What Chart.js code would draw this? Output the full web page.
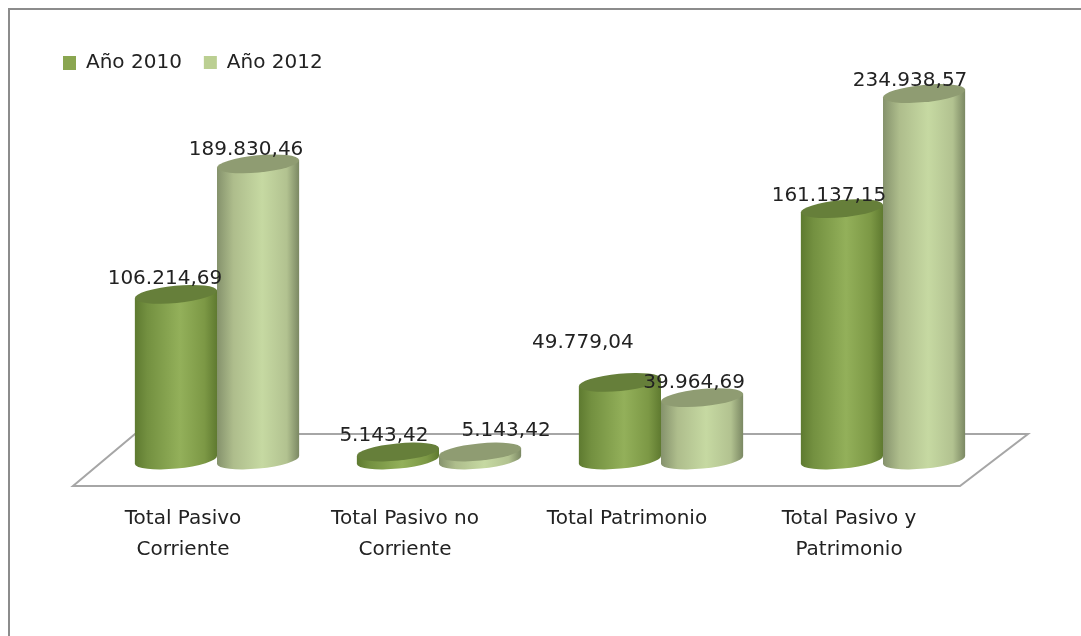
<!DOCTYPE html>
<html lang="es">
<head>
<meta charset="utf-8">
<title>Pasivo y Patrimonio</title>
<style>html,body{margin:0;padding:0;background:#fff;overflow:hidden}canvas{display:block;filter:blur(.4px)}</style>
<script src="https://cdn.jsdelivr.net/npm/chart.js@4/dist/chart.umd.js"></script>
</head>
<body>
<canvas id="c" width="1081" height="636"></canvas>
<script>
const categories = [["Total Pasivo","Corriente"],["Total Pasivo no","Corriente"],["Total Patrimonio"],["Total Pasivo y","Patrimonio"]];
const seriesNames = ["Año 2010","Año 2012"];
const values2010 = [106214.69, 5143.42, 49779.04, 161137.15];
const values2012 = [189830.46, 5143.42, 39964.69, 234938.57];

const FONT = '"DejaVu Sans", sans-serif';
const TEXT = '#222222';
const solid = ['#8aa650', '#bbcf92'];
const look = {
  '#8aa650': {top:'#667f3a', stops:[[0,'#5e7a30'],[.15,'#739040'],[.55,'#93b05a'],[.85,'#7c9845'],[1,'#5f7a30']]},
  '#bbcf92': {top:'#8f9c72', stops:[[0,'#85926c'],[.2,'#aebd8c'],[.55,'#c6d9a2'],[.85,'#b2c290'],[1,'#7b8863']]}
};
// label nudges from the top-centre of each bar: [dx, dy] by dataset then category
const labelNudge = [
  [[-11,-16],[-14,-16],[-37,-40],[-13,-13]],
  [[-12,-14],[26,-21],[-8,-15],[-14,-13]]
];
const TILT = 5.5 * Math.PI / 180, RY = 8.6;

const fmt = v => v.toFixed(2).replace('.',',').replace(/\B(?=(\d{3})+(?!\d))/g,'.');

// Bars are the library's own elements, painted as tilted cylinders.
Chart.BarElement.prototype.draw = function (ctx) {
  const {x, y, base, width} = this.getProps(['x','y','base','width']);
  const st = look[this.options.backgroundColor];
  const rx = width / 2 / Math.cos(TILT);
  const dy = width / 2 * Math.tan(TILT);
  const l = x - width / 2, r = x + width / 2;
  const g = ctx.createLinearGradient(l, 0, r, 0);
  st.stops.forEach(s => g.addColorStop(s[0], s[1]));
  ctx.save();
  ctx.beginPath();
  ctx.ellipse(x, base, rx, RY, -TILT, 0, Math.PI);
  ctx.lineTo(l, y + dy);
  ctx.lineTo(r, y - dy);
  ctx.closePath();
  ctx.fillStyle = g;
  ctx.fill();
  ctx.beginPath();
  ctx.ellipse(x, y, rx, RY, -TILT, 0, Math.PI * 2);
  ctx.fillStyle = st.top;
  ctx.fill();
  ctx.restore();
};

const scene = {
  id: 'scene',
  beforeDraw(chart) {
    const {ctx, width, height} = chart;
    ctx.save();
    ctx.fillStyle = '#fff';
    ctx.fillRect(0, 0, width, height);
    ctx.strokeStyle = '#8c8c8c';
    ctx.lineWidth = 2;
    ctx.beginPath();
    ctx.moveTo(9, height);
    ctx.lineTo(9, 9);
    ctx.lineTo(width, 9);
    ctx.stroke();
    ctx.restore();
  },
  beforeDatasetsDraw(chart) {
    const {ctx, chartArea: a} = chart;
    const b = a.bottom;
    ctx.save();
    ctx.strokeStyle = '#a6a6a6';
    ctx.lineWidth = 2;
    ctx.beginPath();
    ctx.moveTo(a.left - 33, b + 26);
    ctx.lineTo(a.right - 34, b + 26);
    ctx.lineTo(a.right + 34, b - 26);
    ctx.lineTo(a.left + 29, b - 26);
    ctx.closePath();
    ctx.stroke();
    ctx.restore();
  },
  afterDraw(chart) {
    const {ctx} = chart;
    ctx.save();
    ctx.font = '20px ' + FONT;
    ctx.fillStyle = TEXT;
    ctx.textAlign = 'center';
    ctx.textBaseline = 'middle';
    chart.data.datasets.forEach((ds, di) => {
      chart.getDatasetMeta(di).data.forEach((el, i) => {
        const n = labelNudge[di][i];
        ctx.fillText(fmt(ds.data[i]), el.x + n[0], el.y + n[1]);
      });
    });
    // the legend text is cut off along its lower edge in the source
    ctx.fillStyle = '#fff';
    ctx.fillRect(80, 69, 250, 8);
    ctx.restore();
  }
};

new Chart(document.getElementById('c'), {
  type: 'bar',
  data: {
    labels: categories,
    datasets: [
      {label: seriesNames[0], data: values2010, backgroundColor: solid[0], clip: false},
      {label: seriesNames[1], data: values2012, backgroundColor: solid[1], clip: false}
    ]
  },
  plugins: [scene],
  options: {
    responsive: false,
    animation: false,
    events: [],
    layout: {padding: {left: 41, right: 87, top: 31, bottom: 0}},
    datasets: {bar: {barPercentage: 1, categoryPercentage: 0.74}},
    plugins: {
      tooltip: {enabled: false},
      legend: {
        position: 'top',
        align: 'start',
        labels: {
          boxWidth: 13, boxHeight: 14, padding: 22,
          color: TEXT,
          font: {family: FONT, size: 20}
        }
      }
    },
    scales: {
      x: {
        grid: {display: false, drawTicks: false},
        border: {display: false},
        afterFit(s) { s.height = 176; },
        ticks: {
          color: TEXT,
          font: {family: FONT, size: 20, lineHeight: 1.55},
          padding: 43,
          labelOffset: -34,
          maxRotation: 0,
          autoSkip: false
        }
      },
      y: {
        min: 0,
        max: 241700,
        grid: {display: false},
        border: {display: false},
        ticks: {display: false},
        afterFit(s) { s.width = 65; }
      }
    }
  }
});
</script>
</body>
</html>
